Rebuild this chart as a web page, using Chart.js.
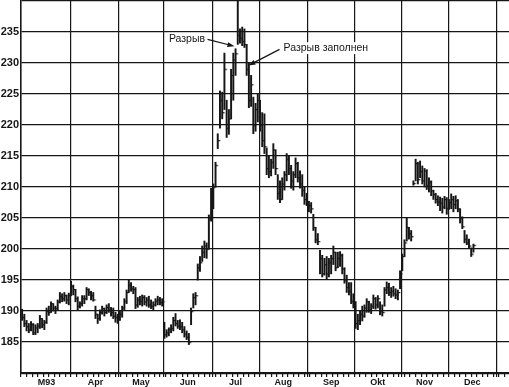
<!DOCTYPE html>
<html>
<head>
<meta charset="utf-8">
<script src="https://cdn.jsdelivr.net/npm/chart.js@4.4.0/dist/chart.umd.min.js"></script>
<style>
  html, body { margin: 0; background: #fff; }
  #wrap { width: 509px; height: 387px; }
</style>
</head>
<body>
<div id="wrap"><canvas id="chart"></canvas></div>
<script>
// ── DATA ─────────────────────────────────────────
// one bar per trading day, Mar 1993 .. Dec 1993

const MONTH_LABELS = ["M93","Apr","May","Jun","Jul","Aug","Sep","Okt","Nov","Dec"];
const MONTH_STARTS = [0, 23, 44, 64, 86, 107, 129, 150, 171, 192, 214];

const Y_GRID   = [180,185,190,195,200,205,210,215,220,225,230,235,240];
const Y_LABELS = [185,190,195,200,205,210,215,220,225,230,235];

const HIGH = [
  // Mar
  190.3,189.5,188.5,188,188.3,188,187.8,188,189.3,188.8,188.5,190.5,190.8,191.5,191.2,190.8,191.8,193,192.8,193,192.6,192.9,194.8,
  // Apr
  194.2,193.5,192.3,191.5,192.5,192.5,193.8,193.6,193.2,193,190.8,189.5,190.2,190.8,190.5,191,191.2,190.6,190.5,189.8,189.5,
  // May
  190,190.8,192,193.4,195,194.6,194,193.8,192.2,192.4,192.6,192.5,192.2,192.4,191.8,191.5,192,192.4,192.2,192,
  // Jun
  188.2,187,187.3,187.8,189,189.6,188.5,188.6,188.2,187.5,186.8,186.4,190.5,192.8,193,197.6,198.8,200.5,201.3,201,205.5,209.8,
  // Jul
  210.5,214,218.6,225.5,225.3,231.6,224,222.5,229,231.6,232.3,241,235.5,235.8,235.5,233,230,228,224.5,223.5,225,
  // Aug
  224,222,221.8,216.3,215,214.5,217,216,212,211,211.5,212.5,215.4,215,213.5,212.5,214.7,214,212.6,212,210,209,
  // Sep
  207.7,207.5,205.6,203.5,202.5,199.8,199,198.5,198.8,198.5,199,200.5,199.5,199.5,199.6,199.2,197,195.8,194.6,194.6,192.8,
  // Okt
  191.5,189.5,190,190.8,191,192,191.6,191.2,192.6,192.2,192.5,191.5,191,193.8,194.7,194.5,193.8,194,193.6,193.4,196.5,
  // Nov
  199.2,201.5,205,203.5,203,211,214.5,214,214.2,213.4,213,212.8,211.5,211,209.5,209,208.6,208.4,208.2,208.5,208.3,
  // Dec
  208,208.9,208.5,208.6,208,206.5,205.2,203,202.3,201.6,200.2,200.8
];

const LOW = [
  188.5,187.5,186.8,186.5,186.8,186.2,186.2,186.5,187.2,187.3,187,188,189.3,189.8,190,189.6,190.2,191.3,191.5,191.6,191.2,191,192.5,
  192.6,191.5,190.2,190.5,190.8,191.2,191.8,192.5,191.8,191.6,188.8,188,188.5,189.5,189.2,189.6,189.8,189.2,188.8,188.2,188,
  188.5,189,190.2,191.2,193,193.2,192.8,190.4,190.6,191,190.8,191,190.8,190.6,190.4,190.2,190.8,191,191,190.8,
  185.6,185.8,186,186.5,186.8,187.6,187.2,187,186.5,185.8,185.4,184.6,187.8,190.5,191,195,196.4,198,198.6,198.5,200,204.5,
  206.5,210,216.2,219.5,221,222.5,218,218.5,221,224,228,233,233.2,232.8,232.5,228,222.8,223,218.6,219,220.5,
  219,216.5,215.4,212,211.5,211.8,213,212,208,207.5,208,209.5,211,212,209.8,209.5,211.5,210.8,209.8,208.5,207.2,207,
  206,205.8,203,201,200.7,196,195.5,195.8,195.2,195.5,196,197.5,196.5,197,197.2,196,194.5,193,192.6,191.2,190.5,
  187.2,187,187.8,188.4,189,189.8,189.8,189.6,190.4,190.3,190.5,189.4,189.2,190.8,192.8,192.5,192.2,192.4,192,191.8,193.6,
  196.5,198.8,201.3,201.6,201.3,210.3,211,210.5,211.5,210.5,210,209.6,209.2,208.6,208,207.4,207,206.2,205.8,206.5,205.6,
  206.4,206.5,206,206.5,206,204.2,203.3,201,200.7,200.2,198.8,199.5
];

const CLOSE = [
  189,188,187.5,187,187.8,186.5,187.3,187.6,188.8,187.8,188.2,190,189.8,191.2,190.5,190.4,191.5,192.4,192,192.5,191.8,192.5,194,
  193.5,192,190.8,191.2,192,192,193.5,193,192.5,191.8,189.5,188.8,189.8,190.4,189.8,190.6,190.2,189.8,189.2,189,188.6,
  189.5,190.5,191.6,193,194.2,193.6,193.5,191,191.8,191.6,192.2,191.5,191.8,191,190.8,191,191.6,191.8,191.4,191.5,
  186.2,186.5,187,187.2,188.5,188,187.6,187.5,187,186.3,185.8,185,190,192.2,192.5,197,197.8,199.5,200.5,200,205,209.5,
  210,213.5,217.5,224,222,229,219.5,221,228,230.5,231.5,234.5,234,233.5,233,229,224,226.5,220,222.5,224,
  220,217.5,216.5,213,212.5,214,216,213,209,208,210.5,212,214.5,213,211,212,213.8,211.5,210.5,209.5,208,207.5,
  207,206.5,203.5,201.5,201.2,198.5,196,197.5,196,197.8,198.5,199.5,197,198.5,199,196.8,195,193.8,193.2,191.6,191.5,
  188,188.5,189.5,189.2,190.5,191.5,190.2,190.8,192,191,192,190,189.8,193.4,193.8,193,193.2,192.8,192.6,193,196,
  198.8,201,203.5,202.5,202,210.6,213.8,211.2,212.5,211,212.6,210.2,210.8,209.4,208.8,208,207.6,207.4,206.8,208,206.6,
  207.5,208,207.2,207.8,206.5,205,203.6,201.6,201,200.5,199.2,200.6
];

// gap notes: text anchor and arrow tip, in (bar index, price)
const NOTES = [
  { text: "Разрыв",          align: "right", at: [82.3, 233.9],  from: [83.4, 233.8], tip: [95.5, 232.7] },
  { text: "Разрыв заполнен", align: "left",  at: [117.6, 232.4], from: [115.8, 232.2], tip: [101.8, 229.6] }
];

// ── SETTINGS ─────────────────────────────────────

const INK = "#161616";
const FONT = '"Liberation Sans", Arial, sans-serif';
const X_MIN = -0.5, X_MAX = 219;
const TICK_STEP = 2.5;

const BOUNDARIES = MONTH_STARTS.map(s => s - 0.5);
const MONTH_MID = MONTH_LABELS.map((_, k) => (MONTH_STARTS[k] + MONTH_STARTS[k + 1] - 1) / 2);

const AXIS_TICKS = [];
for (let v = X_MIN; v <= X_MAX; v += TICK_STEP) AXIS_TICKS.push(v);
BOUNDARIES.forEach(b => { if (!AXIS_TICKS.some(t => Math.abs(t - b) < 0.6)) AXIS_TICKS.push(b); });
AXIS_TICKS.sort((a, b) => a - b);

function isBoundary(v) {
  return BOUNDARIES.some(b => Math.abs(b - v) < 0.6);
}

// no reserved space at the ends of an axis
function noPadding(s) {
  s.paddingLeft = 0; s.paddingRight = 0;
  s.paddingTop = 0; s.paddingBottom = 0;
}

// close tick, drawn to the right of the bar
function closeTick() {
  const c = document.createElement("canvas");
  c.width = 8; c.height = 3;
  const g = c.getContext("2d");
  g.fillStyle = INK;
  g.fillRect(4, 1, 2.4, 1.2);
  return c;
}

// ── ANNOTATIONS ──────────────────────────────────

const gapNotes = {
  id: "gapNotes",
  afterDatasetsDraw(chart) {
    const { ctx, scales: { x, y } } = chart;
    ctx.save();
    ctx.font = "10.5px " + FONT;
    ctx.textBaseline = "middle";
    NOTES.forEach(n => {
      const tx = x.getPixelForValue(n.at[0]), ty = y.getPixelForValue(n.at[1]);
      const w = ctx.measureText(n.text).width;
      const left = n.align === "right" ? tx - w : tx;
      ctx.fillStyle = "#fff";
      ctx.fillRect(left - 1, ty - 6, w + 2, 12);
      ctx.fillStyle = INK;
      ctx.textAlign = "left";
      ctx.fillText(n.text, left, ty);

      const fx = x.getPixelForValue(n.from[0]), fy = y.getPixelForValue(n.from[1]);
      const px = x.getPixelForValue(n.tip[0]), py = y.getPixelForValue(n.tip[1]);
      const a = Math.atan2(py - fy, px - fx);
      ctx.strokeStyle = INK;
      ctx.lineWidth = 1.2;
      ctx.beginPath();
      ctx.moveTo(fx, fy);
      ctx.lineTo(px - 4 * Math.cos(a), py - 4 * Math.sin(a));
      ctx.stroke();
      ctx.beginPath();
      ctx.moveTo(px, py);
      ctx.lineTo(px - 7 * Math.cos(a) + 2.5 * Math.sin(a), py - 7 * Math.sin(a) - 2.5 * Math.cos(a));
      ctx.lineTo(px - 7 * Math.cos(a) - 2.5 * Math.sin(a), py - 7 * Math.sin(a) + 2.5 * Math.cos(a));
      ctx.closePath();
      ctx.fill();
    });
    ctx.restore();
  }
};

// ── CHART ────────────────────────────────────────

function buildChart() {
  const ranges = HIGH.map((h, i) => ({ x: i, y: [LOW[i], h] }));
  const closes = CLOSE.map((c, i) => ({ x: i, y: c }));

  new Chart(document.getElementById("chart"), {
    type: "bar",
    data: {
      datasets: [
        {
          type: "bar",
          data: ranges,
          backgroundColor: INK,
          borderWidth: 0,
          barThickness: 1.3,
        },
        {
          type: "scatter",
          data: closes,
          pointStyle: closeTick(),
          pointRadius: 2,
        },
      ],
    },
    options: {
      responsive: true,
      maintainAspectRatio: false,
      animation: false,
      events: [],
      layout: { autoPadding: false, padding: { top: 1, right: 0, bottom: 0, left: 0 } },
      plugins: { legend: { display: false }, tooltip: { enabled: false } },
      scales: {
        x: {
          type: "linear",
          min: X_MIN, max: X_MAX,
          offset: false,
          weight: 0,
          afterBuildTicks: s => { s.ticks = AXIS_TICKS.map(v => ({ value: v })); },
          afterFit: noPadding,
          grid: {
            offset: false,
            color: c => (c.tick && isBoundary(c.tick.value)) ? INK : "rgba(0,0,0,0)",
            tickColor: INK,
            tickLength: 4,
            lineWidth: 1.2,
          },
          border: { color: INK, width: 1.5 },
          ticks: { display: false },
        },
        x2: {
          type: "linear",
          position: "bottom",
          min: X_MIN, max: X_MAX,
          offset: false,
          weight: 1,
          afterBuildTicks: s => { s.ticks = MONTH_MID.map(v => ({ value: v })); },
          afterFit: noPadding,
          grid: { display: false, offset: false, drawTicks: false },
          border: { display: false },
          ticks: {
            autoSkip: false,
            maxRotation: 0,
            padding: 0,
            color: INK,
            font: { family: FONT, size: 9, weight: "bold", lineHeight: 1.1 },
            callback: (v, i) => MONTH_LABELS[i],
          },
        },
        y: {
          min: 180, max: 240,
          afterBuildTicks: s => { s.ticks = Y_GRID.map(v => ({ value: v })); },
          afterFit: s => { s.width = 21; noPadding(s); },
          grid: { color: INK, lineWidth: 1.2, drawTicks: false },
          border: { color: INK, width: 1.5 },
          ticks: {
            padding: 2,
            color: INK,
            font: { family: FONT, size: 11, weight: "bold" },
            callback: v => Y_LABELS.includes(v) ? String(v) : "",
          },
        },
      },
    },
    plugins: [gapNotes],
  });
}

buildChart();
</script>
</body>
</html>
